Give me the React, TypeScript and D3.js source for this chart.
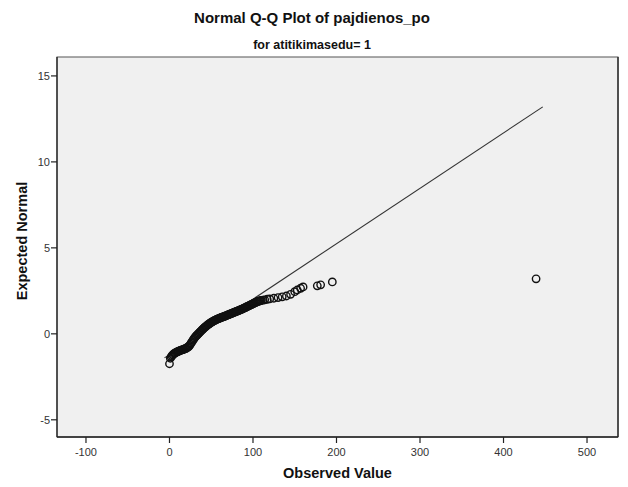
import React from "react";
import * as d3 from "d3";

const titleText = "Normal Q-Q Plot of pajdienos_po";
const subtitleText = "for atitikimasedu= 1";
const xLabel = "Observed Value";
const yLabel = "Expected Normal";

const xTicks = [-100, 0, 100, 200, 300, 400, 500];
const yTicks = [-5, 0, 5, 10, 15];

// observed values (distinct) and their expected normal scores
const observed = [
  0, 1, 2, 3, 4, 5, 6, 7, 8, 9, 10, 11, 12, 13, 14, 15, 16, 17, 18, 19, 20,
  21, 22, 23, 24, 25, 26, 27, 28, 29, 30, 31, 32, 33, 34, 35, 36, 37, 38, 39, 40,
  41, 42, 43, 44, 45, 46, 47, 48, 49, 50, 51, 52, 53, 54, 55, 56, 57, 58, 59, 60,
  61, 62, 63, 64, 65, 66, 67, 68, 69, 70, 71, 72, 73, 74, 75, 76, 77, 78, 79, 80,
  81, 82, 83, 84, 85, 86, 87, 88, 89, 90, 91, 92, 93, 94, 95, 96, 97, 98, 99, 100,
  101, 102, 103, 104, 105, 106, 107, 108, 109, 110,
  112, 114, 117, 120, 125, 130, 135, 140, 145, 150, 153, 157, 160, 177, 181, 195, 439,
];
const expectedNormal = [
  -1.74, -1.42, -1.34, -1.27, -1.22, -1.17, -1.14, -1.11, -1.08, -1.05, -1.03, -1.01, -0.99, -0.97, -0.95, -0.93, -0.92, -0.9, -0.88, -0.86, -0.84,
  -0.81, -0.78, -0.74, -0.68, -0.61, -0.53, -0.46, -0.38, -0.31, -0.24, -0.17, -0.12, -0.07, -0.02, 0.03, 0.08, 0.13, 0.18, 0.23, 0.28,
  0.32, 0.37, 0.41, 0.45, 0.49, 0.53, 0.57, 0.6, 0.64, 0.67, 0.7, 0.72, 0.75, 0.78, 0.8, 0.83, 0.85, 0.87, 0.89, 0.91,
  0.93, 0.95, 0.97, 0.98, 1.0, 1.02, 1.04, 1.06, 1.08, 1.1, 1.12, 1.14, 1.16, 1.18, 1.2, 1.22, 1.24, 1.26, 1.28, 1.3,
  1.32, 1.34, 1.36, 1.38, 1.4, 1.42, 1.44, 1.47, 1.49, 1.51, 1.53, 1.56, 1.58, 1.61, 1.63, 1.65, 1.68, 1.7, 1.73, 1.75,
  1.77, 1.8, 1.82, 1.85, 1.87, 1.88, 1.9, 1.91, 1.93, 1.94,
  1.96, 1.98, 2.01, 2.03, 2.07, 2.11, 2.15, 2.2, 2.3, 2.45, 2.55, 2.65, 2.73, 2.79, 2.85, 3.02, 3.2,
];

// reference line end points (observed) and normal parameters
const lineX = [-6, 447];
const mean = 37.4;
const sd = 31.03;

const W = 628;
const H = 487;
const plot = { left: 57, top: 57, right: 618, bottom: 437 };
const font = "Arial, 'Liberation Sans', sans-serif";

export default function App() {
  const x = d3.scaleLinear().domain([-134.7, 537.1]).range([plot.left, plot.right]);
  const y = d3.scaleLinear().domain([-6.0, 16.1]).range([plot.bottom, plot.top]);
  const pts = observed.map((v, i) => [v, expectedNormal[i]] as [number, number]);
  const line = d3
    .line<number>()
    .x((d) => x(d))
    .y((d) => y((d - mean) / sd));

  return (
    <svg
      width={W}
      height={H}
      style={{ position: "absolute", left: 0, top: 0, background: "#fff" }}
      fontFamily={font}
    >
      <rect x={0} y={0} width={W} height={H} fill="#fff" />
      <text x={312} y={23} textAnchor="middle" fontSize={15} fontWeight="bold" fill="#111">
        {titleText}
      </text>
      <text x={312} y={49} textAnchor="middle" fontSize={12.5} fontWeight="bold" fill="#111">
        {subtitleText}
      </text>
      <rect
        x={plot.left}
        y={plot.top}
        width={plot.right - plot.left}
        height={plot.bottom - plot.top}
        fill="#f0f0f0"
        stroke="#555"
        strokeWidth={1}
      />
      <line x1={plot.right} x2={plot.right} y1={plot.top} y2={plot.bottom} stroke="#333" strokeWidth={1.5} />
      <line x1={plot.left} x2={plot.left} y1={plot.top} y2={plot.bottom} stroke="#222" strokeWidth={1.3} />
      <line x1={plot.left} x2={plot.right} y1={plot.bottom} y2={plot.bottom} stroke="#222" strokeWidth={1.3} />
      {yTicks.map((t) => (
        <g key={"y" + t}>
          <line x1={plot.left - 6} x2={plot.left} y1={y(t)} y2={y(t)} stroke="#222" strokeWidth={1.2} />
          <text x={plot.left - 7} y={y(t) + 4} textAnchor="end" fontSize={11} fill="#333">
            {t}
          </text>
        </g>
      ))}
      {xTicks.map((t) => (
        <g key={"x" + t}>
          <line x1={x(t)} x2={x(t)} y1={plot.bottom} y2={plot.bottom + 6} stroke="#222" strokeWidth={1.2} />
          <text x={x(t)} y={plot.bottom + 19} textAnchor="middle" fontSize={11} fill="#333">
            {t}
          </text>
        </g>
      ))}
      <text x={(plot.left + plot.right) / 2} y={478} textAnchor="middle" fontSize={14.5} fontWeight="bold" fill="#111">
        {xLabel}
      </text>
      <text
        transform={`translate(27,241) rotate(-90)`}
        textAnchor="middle"
        fontSize={14.5}
        fontWeight="bold"
        fill="#111"
      >
        {yLabel}
      </text>
      <path d={line(lineX) || ""} stroke="#333" strokeWidth={1.1} fill="none" />
      {pts.map(([a, b], i) => (
        <circle key={i} cx={x(a)} cy={y(b)} r={3.7} fill="none" stroke="#111" strokeWidth={1.4} />
      ))}
    </svg>
  );
}
